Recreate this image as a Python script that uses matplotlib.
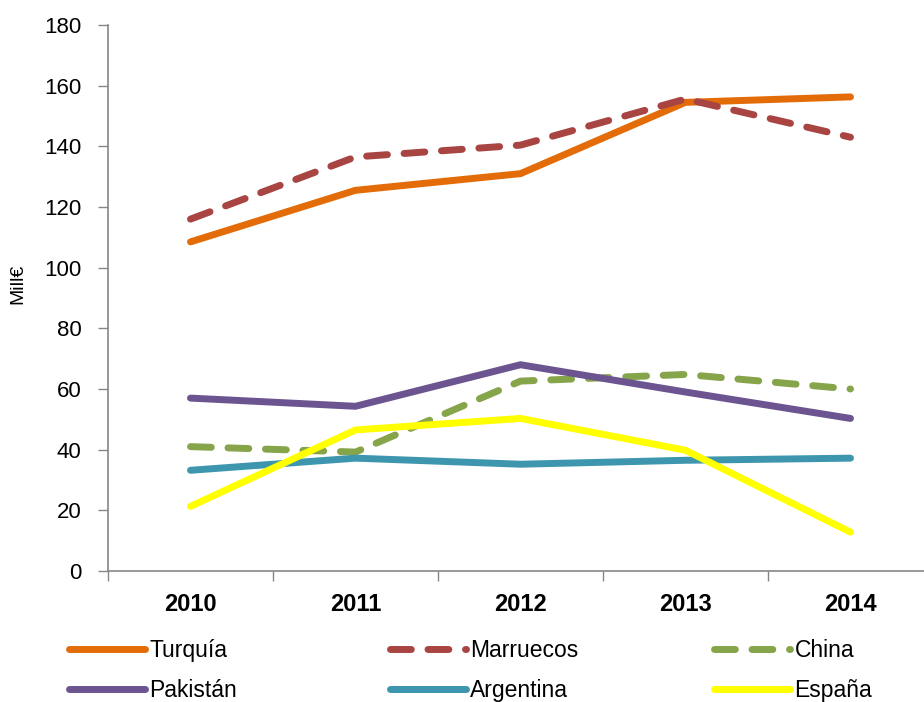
import matplotlib
matplotlib.use("Agg")
import matplotlib.pyplot as plt

years = ["2010", "2011", "2012", "2013", "2014"]
turquia = [108.5, 125.5, 131.0, 154.5, 156.3]
marruecos = [116.0, 136.5, 140.4, 155.6, 143.0]
china = [41.0, 39.2, 62.6, 64.8, 60.0]
pakistan = [57.0, 54.3, 68.0, 59.0, 50.3]
argentina = [33.2, 37.2, 35.2, 36.5, 37.2]
espana = [21.3, 46.5, 50.3, 39.8, 12.8]

names = ["Turquía", "Marruecos", "China", "Pakistán", "Argentina", "España"]
colors = ["#E36C09", "#A84441", "#86A44A", "#6B548F", "#3D96AE", "#FFFF00"]
styles = ["solid", "dash", "dash", "solid", "solid", "solid"]

plt.rcParams['font.family'] = ['Liberation Sans', 'DejaVu Sans']

fig = plt.figure(figsize=(9.24, 7.02), dpi=100)
ax = fig.add_axes([108/924, 131/702, 825/924, 546/702])

series = [turquia, marruecos, china, pakistan, argentina, espana]
x = list(range(len(years)))
lines = []
for vals, name, c, st in zip(series, names, colors, styles):
    ln, = ax.plot(x, vals, color=c, lw=5, label=name,
                  solid_capstyle='round', dash_capstyle='round',
                  solid_joinstyle='miter')
    if st == "dash":
        ln.set_dashes((3.0, 2.4))
    lines.append(ln)

ax.set_xlim(-0.5, 4.5)
ax.set_ylim(0, 180)
ax.set_yticks(range(0, 181, 20))
ax.tick_params(axis='y', direction='out', length=7, width=1, color='#868686',
               labelsize=16, pad=12)
ax.set_xticks(x)
ax.set_xticklabels(years, fontweight='bold', fontsize=17)
ax.set_xticks([-0.5, 0.5, 1.5, 2.5, 3.5, 4.5], minor=True)
ax.tick_params(axis='x', which='major', length=0, pad=16)
ax.tick_params(axis='x', which='minor', direction='out', length=7, width=1, color='#868686')
for s in ['top', 'right']:
    ax.spines[s].set_visible(False)
for s in ['left', 'bottom']:
    ax.spines[s].set_color('#868686')
    ax.spines[s].set_linewidth(1.2)

ax.set_ylabel("Mill€", fontsize=14)
ax.yaxis.set_label_coords(-0.099, 0.525)

colx = [60/924, 381/924, 705/924]
for i in range(3):
    fig.legend([lines[i], lines[i+3]], [names[i], names[i+3]],
               loc='upper left', bbox_to_anchor=(colx[i], 72/702),
               frameon=False, ncol=1, handlelength=3.3, handletextpad=0.2,
               labelspacing=0.75, borderaxespad=0,
               prop={'size': 16.5})

fig.savefig("out.png", dpi=100)
